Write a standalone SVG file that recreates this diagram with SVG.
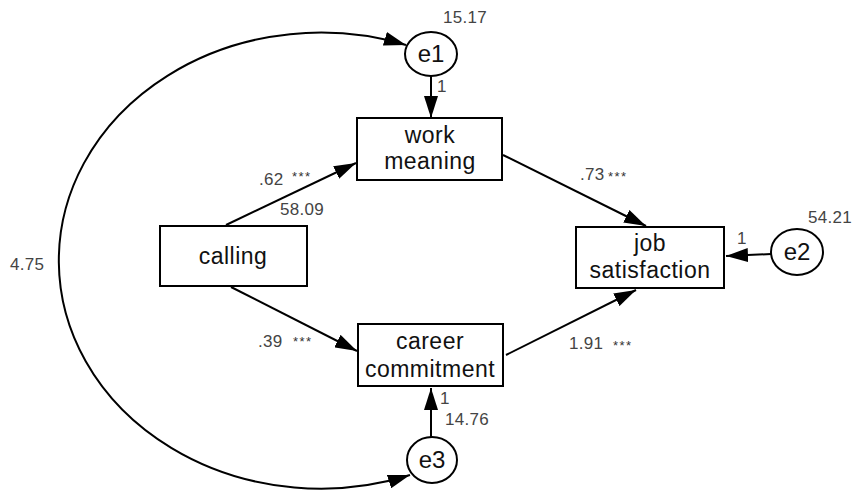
<svg xmlns="http://www.w3.org/2000/svg" width="859" height="490" viewBox="0 0 859 490">
<style>
.box{fill:#fff;stroke:#000;stroke-width:2}
.lbl{font-family:"Liberation Sans",Arial,sans-serif;font-size:23px;fill:#111;text-anchor:middle;letter-spacing:0.5px}
.el{font-family:"Liberation Sans",Arial,sans-serif;font-size:24px;fill:#111;text-anchor:middle}
.num{font-family:"Liberation Sans",Arial,sans-serif;font-size:17px;fill:#444;letter-spacing:0.3px}
.st{font-family:"Liberation Sans",Arial,sans-serif;font-size:13px;fill:#333;letter-spacing:1.5px}
.edge{fill:none;stroke:#000;stroke-width:2}
</style>
<defs>
<marker id="ah" viewBox="0 0 22 14" refX="22" refY="7" markerWidth="22" markerHeight="14" markerUnits="userSpaceOnUse" orient="auto-start-reverse">
<path d="M0,0 L22,7 L0,14 z" fill="#000"/>
</marker>
</defs>
<g id="connectors">
<path class="edge" d="M406,45 A262,228 0 1 0 410,475" marker-start="url(#ah)" marker-end="url(#ah)"/>
<line class="edge" x1="431" y1="76" x2="431" y2="118" marker-end="url(#ah)"/>
<line class="edge" x1="226" y1="225" x2="356" y2="163" marker-end="url(#ah)"/>
<line class="edge" x1="231" y1="287" x2="357" y2="351" marker-end="url(#ah)"/>
<line class="edge" x1="503" y1="155" x2="646" y2="226" marker-end="url(#ah)"/>
<line class="edge" x1="506" y1="355" x2="636" y2="290" marker-end="url(#ah)"/>
<line class="edge" x1="771" y1="254" x2="726" y2="256" marker-end="url(#ah)"/>
<line class="edge" x1="431" y1="437" x2="431" y2="388" marker-end="url(#ah)"/>
</g>
<g id="e1">
<ellipse cx="431" cy="54" rx="26" ry="22" class="box"/>
<text x="431" y="62" class="el">e1</text>
</g>
<g id="e2">
<ellipse cx="797" cy="252" rx="26" ry="23" class="box"/>
<text x="797" y="260" class="el">e2</text>
</g>
<g id="e3">
<ellipse cx="432" cy="460" rx="25" ry="23" class="box"/>
<text x="432" y="468" class="el">e3</text>
</g>
<g id="work-meaning">
<rect x="357" y="118" width="145" height="62" class="box"/>
<text x="430" y="143" class="lbl">work</text>
<text x="430" y="169" class="lbl">meaning</text>
</g>
<g id="calling">
<rect x="160" y="226" width="147" height="60" class="box"/>
<text x="233" y="264" class="lbl">calling</text>
</g>
<g id="career-commitment">
<rect x="358" y="324" width="145" height="62" class="box"/>
<text x="430" y="349" class="lbl">career</text>
<text x="430" y="377" class="lbl">commitment</text>
</g>
<g id="job-satisfaction">
<rect x="576" y="227" width="148" height="61" class="box"/>
<text x="650" y="251" class="lbl">job</text>
<text x="650" y="278" class="lbl">satisfaction</text>
</g>
<g id="labels">
<text x="443" y="23" class="num">15.17</text>
<text x="437" y="92" class="num">1</text>
<text x="259" y="185" class="num">.62</text>
<text x="292" y="181" class="st">***</text>
<text x="280" y="215" class="num">58.09</text>
<text x="580" y="180" class="num">.73</text>
<text x="608" y="181" class="st">***</text>
<text x="808" y="223" class="num">54.21</text>
<text x="737" y="244" class="num">1</text>
<text x="10" y="270" class="num">4.75</text>
<text x="258" y="347" class="num">.39</text>
<text x="293" y="346" class="st">***</text>
<text x="569" y="349" class="num">1.91</text>
<text x="613" y="350" class="st">***</text>
<text x="440" y="404" class="num">1</text>
<text x="445" y="425" class="num">14.76</text>
</g>
</svg>
